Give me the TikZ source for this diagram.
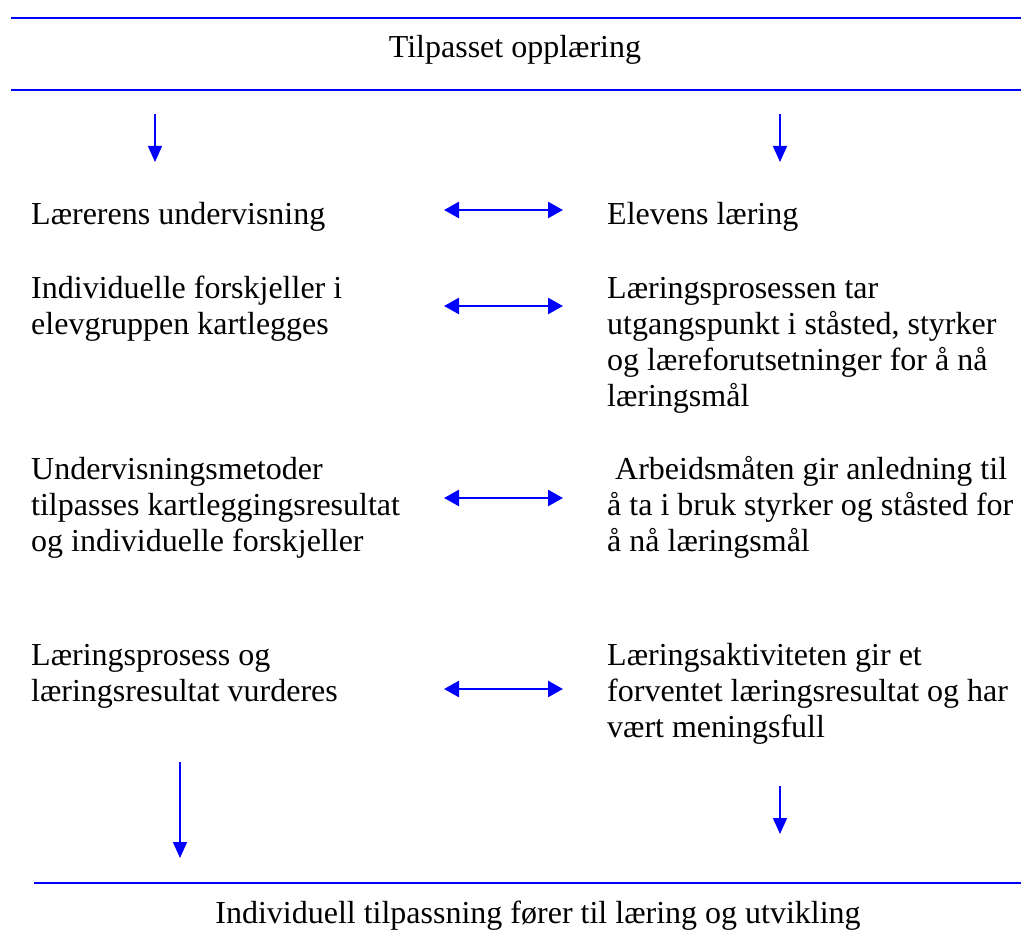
\documentclass[tikz,border=0pt]{standalone}
\usepackage{fontspec}
\setmainfont{Liberation Serif}
\usetikzlibrary{arrows.meta}

\begin{document}
\begin{tikzpicture}[x=1pt, y=-1pt,
  txt/.style={anchor=base west, align=left, inner sep=0pt,
              font=\fontsize{32}{36}\selectfont},
  ttl/.style={anchor=base, inner sep=0pt, font=\fontsize{32}{36}\selectfont},
  rule/.style={blue, line width=2pt},
  dn/.style={blue, line width=1.5pt, -{Triangle[length=16pt,width=14pt]}},
  lr/.style={blue, line width=2.5pt,
             {Triangle[length=15pt,width=16pt]}-{Triangle[length=15pt,width=16pt]}}]
\useasboundingbox (0,0) rectangle (1034,949);
\coordinate (topL) at (11,18.5);  \coordinate (topR) at (1021,18.5);
\coordinate (midL) at (11,90);    \coordinate (midR) at (1021,90);
\coordinate (botL) at (34,883);   \coordinate (botR) at (1021,883);
\draw[rule] (topL) -- (topR);
\draw[rule, line width=1.3pt] (midL) -- (midR);
\draw[rule, line width=2.5pt] (botL) -- (botR);
\node[ttl] (head) at (515,58) {Tilpasset opplæring};
\node[ttl] (foot) at (538,923) {Individuell tilpassning fører til læring og utvikling};
% base of a multi-line node = its last line
\node[txt] (t1) at (31,225) {Lærerens undervisning};
\node[txt] (l1) at (607,225) {Elevens læring};
\node[txt] (t2) at (31,335) {Individuelle forskjeller i\\elevgruppen kartlegges};
\node[txt] (l2) at (607,407) {Læringsprosessen tar\\utgangspunkt i ståsted, styrker\\og læreforutsetninger for å nå\\læringsmål};
\node[txt] (t3) at (31,551) {Undervisningsmetoder\\tilpasses kartleggingsresultat\\og individuelle forskjeller};
\node[txt] (l3) at (607,551) {\hspace*{8pt}Arbeidsmåten gir anledning til\\å ta i bruk styrker og ståsted for\\å nå læringsmål};
\node[txt] (t4) at (31,701) {Læringsprosess og\\læringsresultat vurderes};
\node[txt] (l4) at (607,737) {Læringsaktiviteten gir et\\forventet læringsresultat og har\\vært meningsfull};
\coordinate (d1a) at (155,114); \coordinate (d1b) at (155,162);
\coordinate (d2a) at (780,114); \coordinate (d2b) at (780,162);
\coordinate (d3a) at (180,762); \coordinate (d3b) at (180,858);
\coordinate (d4a) at (780,786); \coordinate (d4b) at (780,834);
\draw[dn] (d1a) -- (d1b);
\draw[dn] (d2a) -- (d2b);
\draw[dn] (d3a) -- (d3b);
\draw[dn] (d4a) -- (d4b);
\foreach \n/\y in {1/210, 2/306, 3/498, 4/689} {
  \coordinate (a\n) at (444,\y); \coordinate (b\n) at (563,\y);
  \draw[lr] (a\n) -- (b\n);
}
\end{tikzpicture}
\end{document}
